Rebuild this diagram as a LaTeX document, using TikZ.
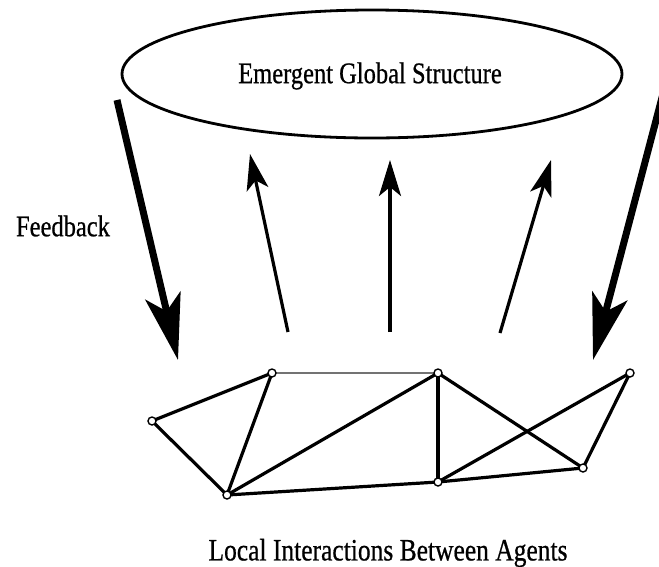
\documentclass[tikz,border=0pt]{standalone}
\usepackage{fontspec}
\setmainfont{Liberation Serif}
\newfontfamily\heavyserif[FakeBold=0.7]{Liberation Serif}
\usetikzlibrary{arrows.meta,shapes.geometric}
\tikzset{
  agent/.style={circle,draw,fill=white,line width=1.4pt,inner sep=0pt,minimum size=8pt},
  link/.style={line width=3.2pt,line cap=round},
  weaklink/.style={line width=1.8pt,draw=black!55},
  upflow/.style={line width=3.2pt,-{Stealth[length=36pt,width=22pt,inset=9pt]}},
  feedflow/.style={line width=7pt,-{Stealth[length=66pt,width=36pt,inset=16pt]}},
  lbl/.style={font=\heavyserif\fontsize{24.5}{28}\selectfont,inner sep=0pt}
}
\newcommand{\tallText}[1]{\scalebox{1}[1.22]{#1}}
\begin{document}
\begin{tikzpicture}[x=1pt,y=-1pt]
\useasboundingbox[fill=white] (0,0) rectangle (659,566);
% emergent structure
\node[ellipse,draw,line width=2.8pt,minimum width=500pt,minimum height=128pt,inner sep=0pt] (global) at (372,74) {};
\node[lbl] (globaltext) at (370,76) {\tallText{Emergent Global Structure}};
% feedback
\node[lbl] (feedtext) at (63,226) {\tallText{Feedback}};
\coordinate (fbLs) at (117,100);
\coordinate (fbLe) at (178,360);
\coordinate (fbRs) at (664,90);
\coordinate (fbRe) at (593,360);
\draw[feedflow] (fbLs) -- (fbLe);
\draw[feedflow] (fbRs) -- (fbRe);
% upward arrows
\coordinate (u1s) at (288,332);
\coordinate (u1e) at (250,154);
\coordinate (u2s) at (390,332);
\coordinate (u2e) at (390,160);
\coordinate (u3s) at (500,333);
\coordinate (u3e) at (551,160);
\draw[upflow] (u1s) -- (u1e);
\draw[upflow] (u2s) -- (u2e);
\draw[upflow] (u3s) -- (u3e);
% agents
\coordinate (pA) at (272,373);
\coordinate (pB) at (438,373);
\coordinate (pC) at (630,373);
\coordinate (pD) at (152,421);
\coordinate (pE) at (227,495);
\coordinate (pF) at (438,482);
\coordinate (pG) at (583,468);
\draw[weaklink] (pA) -- (pB);
\draw[link] (pD) -- (pA);
\draw[link] (pD) -- (pE);
\draw[link] (pA) -- (pE);
\draw[link] (pE) -- (pB);
\draw[link] (pB) -- (pF);
\draw[link] (pE) -- (pF);
\draw[link] (pB) -- (pG);
\draw[link] (pF) -- (pC);
\draw[link] (pC) -- (pG);
\draw[link] (pF) -- (pG);
\foreach \p in {A,B,C,D,E,F,G} \node[agent] (n\p) at (p\p) {};
% bottom label
\node[lbl,font=\heavyserif\fontsize{25.5}{29}\selectfont] (localtext) at (388,553) {\tallText{Local Interactions Between Agents}};
\end{tikzpicture}
\end{document}
